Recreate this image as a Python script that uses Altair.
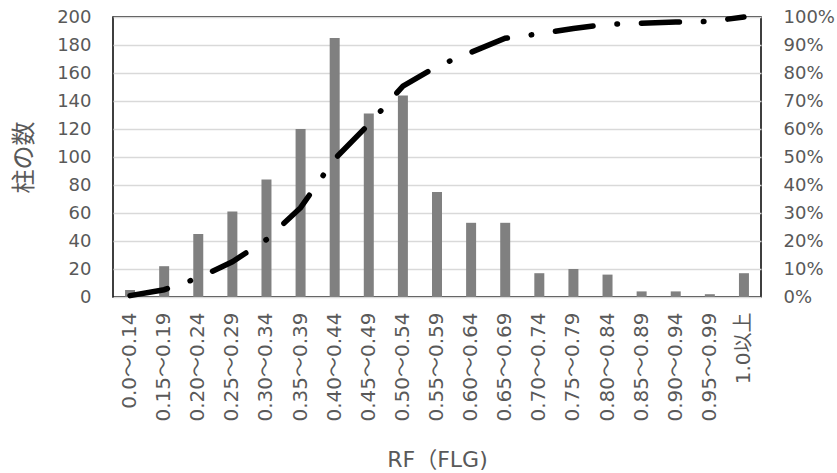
import altair as alt
import pandas as pd

categories = ["0.0～0.14", "0.15～0.19", "0.20～0.24", "0.25～0.29", "0.30～0.34",
              "0.35～0.39", "0.40～0.44", "0.45～0.49", "0.50～0.54", "0.55～0.59",
              "0.60～0.64", "0.65～0.69", "0.70～0.74", "0.75～0.79", "0.80～0.84",
              "0.85～0.89", "0.90～0.94", "0.95～0.99", "1.0以上"]
counts = [5, 22, 45, 61, 84, 120, 185, 131, 144, 75, 53, 53, 17, 20, 16, 4, 4, 2, 17]
cum_pct = [0.005, 0.026, 0.068, 0.126, 0.205, 0.319, 0.493, 0.617, 0.753, 0.824,
           0.874, 0.924, 0.940, 0.959, 0.974, 0.978, 0.982, 0.984, 1.0]
left_ticks = list(range(0, 201, 20))
right_ticks = [i / 10 for i in range(11)]

df = pd.DataFrame({"cat": categories, "count": counts, "cum": cum_pct})

FONT = "DejaVu Sans, Noto Sans CJK JP"
GRAY = "#595959"

x_enc = alt.X("cat:N", sort=categories,
              scale=alt.Scale(paddingInner=0, paddingOuter=0),
              axis=alt.Axis(title="RF（FLG)", labelAngle=270, labelAlign="right",
                            labelBaseline="middle", labelPadding=15, ticks=False,
                            domain=False, labelFont=FONT, labelFontSize=20,
                            labelColor=GRAY, titleFont=FONT, titleFontSize=22,
                            titleFontWeight="normal", titleColor=GRAY,
                            titleX=324, titleY=162, titleBaseline="middle",
                            titleAlign="center"))

bars = alt.Chart(df).mark_bar(color="#808080", size=10).encode(
    x=x_enc,
    y=alt.Y("count:Q", scale=alt.Scale(domain=[0, 200], nice=False),
            axis=alt.Axis(title="柱の数", values=left_ticks, ticks=False, domain=False,
                          labelPadding=22, labelFont=FONT, labelFontSize=18,
                          labelColor=GRAY, grid=True, gridColor="#d9d9d9",
                          gridWidth=1.5, titleFont=FONT, titleFontSize=24,
                          titleFontWeight="normal", titleColor=GRAY,
                          titleX=-89, titleY=140, titleAngle=270,
                          titleAlign="center", titleBaseline="middle")),
)

line = alt.Chart(df).mark_line(color="black", strokeWidth=5.5, strokeCap="round",
                               strokeDash=[38, 24, 0.5, 24]).encode(
    x=alt.X("cat:N", sort=categories),
    y=alt.Y("cum:Q", scale=alt.Scale(domain=[0, 1], nice=False),
            axis=alt.Axis(title=None, orient="right", values=right_ticks, format=".0%",
                          ticks=False, domain=False, grid=False, labelPadding=22,
                          labelFont=FONT, labelFontSize=18, labelColor=GRAY)),
)

chart = alt.layer(bars, line).resolve_scale(y="independent").properties(
    width=648, height=280,
    autosize=alt.AutoSizeParams(type="none"),
    padding={"left": 113, "top": 17, "right": 76, "bottom": 176},
    background="white",
).configure_view(stroke="black", strokeWidth=1.5)

chart.save("out.html", embed_options={"renderer": "svg", "actions": False})
